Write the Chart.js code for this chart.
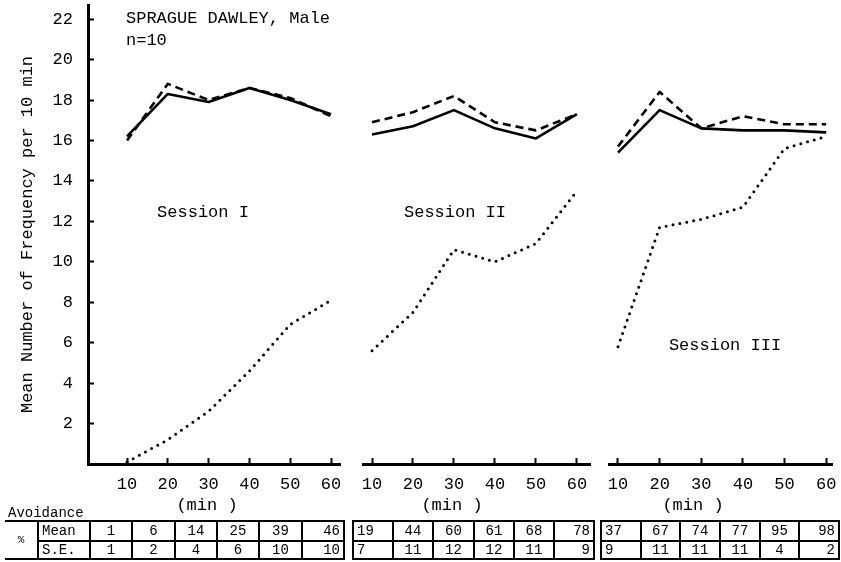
<!DOCTYPE html>
<html>
<head>
<meta charset="utf-8">
<script src="https://cdn.jsdelivr.net/npm/chart.js@4.4.1/dist/chart.umd.min.js"></script>
<style>
  html, body { margin: 0; padding: 0; background: #fff; }
  #page { position: relative; width: 841px; height: 562px; overflow: hidden; background: #fff;
          font-family: "Liberation Mono", "DejaVu Sans Mono", monospace; color: #000; }
  #page canvas { position: absolute; top: 0; }
  .t { position: absolute; white-space: pre; line-height: 1; font-size: 17px; }
  .c { position: absolute; box-sizing: border-box; border: 2px solid #000; display: flex;
       align-items: center; justify-content: center; font-size: 14px; white-space: pre; line-height: 1; }
</style>
</head>
<body>
<div id="page">
  <canvas id="p1" width="345" height="520" style="left:0px"></canvas>
  <canvas id="p2" width="242" height="520" style="left:353px"></canvas>
  <canvas id="p3" width="238" height="520" style="left:599px"></canvas>
</div>
<script>
// Time blocks (min) within each session
const minutes = [10, 20, 30, 40, 50, 60];
const yTickValues = [2, 4, 6, 8, 10, 12, 14, 16, 18, 20, 22];
const sessionNames = ['Session I', 'Session II', 'Session III'];

// Mean number of responses per 10 min: solid, dashed and dotted curves
const s1Solid  = [16.2, 18.3, 17.9, 18.6, 18.0, 17.3];
const s1Dashed = [16.0, 18.8, 18.0, 18.6, 18.1, 17.2];
const s1Dotted = [0.1, 1.2, 2.6, 4.6, 6.9, 8.1];

const s2Solid  = [16.3, 16.7, 17.5, 16.6, 16.1, 17.3];
const s2Dashed = [16.9, 17.4, 18.2, 16.9, 16.5, 17.3];
const s2Dotted = [5.6, 7.5, 10.6, 10.0, 10.9, 13.5];

const s3Solid  = [15.4, 17.5, 16.6, 16.5, 16.5, 16.4];
const s3Dashed = [15.7, 18.4, 16.6, 17.2, 16.8, 16.8];
const s3Dotted = [5.8, 11.7, 12.1, 12.7, 15.6, 16.2];

// Avoidance (%) per block: mean and standard error
const avoidMean1 = [1, 6, 14, 25, 39, 46];
const avoidSE1   = [1, 2, 4, 6, 10, 10];
const avoidMean2 = [19, 44, 60, 61, 68, 78];
const avoidSE2   = [7, 11, 12, 12, 11, 9];
const avoidMean3 = [37, 67, 74, 77, 95, 98];
const avoidSE3   = [9, 11, 11, 11, 4, 2];

const FONT = '"Liberation Mono", "DejaVu Sans Mono", monospace';

function series(vals, dash, width, cap) {
  return {
    data: minutes.map((m, i) => ({ x: m, y: vals[i] })),
    borderColor: '#000',
    borderWidth: width,
    borderDash: dash,
    borderCapStyle: cap,
    borderJoinStyle: 'round',
    pointRadius: 0,
    tension: 0,
    fill: false
  };
}

// keep the plot area fixed: no extra room reserved for edge labels
function noEdgePadding(s) {
  s.paddingLeft = 0; s.paddingRight = 0; s.paddingTop = 0; s.paddingBottom = 0;
}

function makePanel(id, xMin, xMax, solid, dashed, dotted, showY) {
  return new Chart(document.getElementById(id), {
    type: 'line',
    data: {
      datasets: [
        series(solid, [], 2.6, 'butt'),
        series(dashed, [8, 5], 2.6, 'butt'),
        series(dotted, [0, 7], 3, 'round')
      ]
    },
    options: {
      responsive: false,
      animation: false,
      devicePixelRatio: 1,
      layout: { padding: { top: 5, right: 5, bottom: 0, left: showY ? 0 : 10 } },
      plugins: { legend: { display: false }, tooltip: { enabled: false } },
      scales: {
        x: {
          type: 'linear', min: xMin, max: xMax,
          afterBuildTicks: s => { s.ticks = minutes.map(v => ({ value: v })); },
          afterFit: s => { s.height = 56; noEdgePadding(s); },
          grid: { drawOnChartArea: false, drawTicks: true, tickLength: -6, tickWidth: 2, tickColor: '#000' },
          border: { display: true, color: '#000', width: 3 },
          ticks: { color: '#000', font: { family: FONT, size: 17 }, padding: 16, maxRotation: 0, autoSkip: false }
        },
        y: {
          type: 'linear', min: 0, max: 22.7, display: showY,
          afterBuildTicks: s => { s.ticks = yTickValues.map(v => ({ value: v })); },
          afterFit: s => { s.width = showY ? 88 : 0; noEdgePadding(s); },
          grid: { drawOnChartArea: false, drawTicks: true, tickLength: -6, tickWidth: 2, tickColor: '#000' },
          border: { display: true, color: '#000', width: 3 },
          ticks: { color: '#000', font: { family: FONT, size: 17 }, padding: 21, autoSkip: false },
          title: {
            display: true,
            text: 'Mean Number of Frequency per 10 min',
            color: '#000',
            font: { family: FONT, size: 17 },
            padding: { top: 17, bottom: 0 }
          }
        }
      }
    }
  });
}

makePanel('p1', 0.44, 62.2, s1Solid, s1Dashed, s1Dotted, true);
makePanel('p2', 7.8, 63.2, s2Solid, s2Dashed, s2Dotted, false);
makePanel('p3', 7.84, 61.4, s3Solid, s3Dashed, s3Dotted, false);

const page = document.getElementById('page');

function text(str, x, y, opts = {}) {
  const d = document.createElement('div');
  d.className = 't';
  d.textContent = str;
  d.style.left = x + 'px';
  d.style.top = y + 'px';
  if (opts.size) d.style.fontSize = opts.size + 'px';
  if (opts.center) d.style.transform = 'translateX(-50%)';
  page.appendChild(d);
}

text('SPRAGUE DAWLEY, Male', 126, 10);
text('n=10', 126, 32);
text(sessionNames[0], 203, 204, { center: true });
text(sessionNames[1], 455, 204, { center: true });
text(sessionNames[2], 725, 337, { center: true });
[207, 452, 693].forEach(x => text('(min )', x, 497, { center: true }));
text('Avoidance', 8, 506, { size: 14 });

// Avoidance table
function cell(str, x0, x1, y0, y1, align, extra) {
  const d = document.createElement('div');
  d.className = 'c';
  d.textContent = str;
  d.style.left = x0 + 'px';
  d.style.top = y0 + 'px';
  d.style.width = (x1 - x0 + 2) + 'px';
  d.style.height = (y1 - y0 + 2) + 'px';
  if (align === 'left') { d.style.justifyContent = 'flex-start'; d.style.paddingLeft = '3px'; }
  if (align === 'right') { d.style.justifyContent = 'flex-end'; d.style.paddingRight = '3px'; }
  if (extra) Object.assign(d.style, extra);
  page.appendChild(d);
}

const rowTop = 520, rowMid = 540, rowBot = 558;

cell('%', 5, 37, rowTop, rowBot, 'center', { borderLeft: 'none', fontSize: '11px' });
cell('Mean', 37, 89, rowTop, rowMid, 'left');
cell('S.E.', 37, 89, rowMid, rowBot, 'left');

function valueBlock(means, ses, x0, x1, firstLeft) {
  const w = (x1 - x0) / means.length;
  means.forEach((m, i) => {
    const a = Math.round(x0 + i * w), b = Math.round(x0 + (i + 1) * w);
    let align = 'center';
    if (i === means.length - 1) align = 'right';
    if (i === 0 && firstLeft) align = 'left';
    cell(String(m), a, b, rowTop, rowMid, align);
    cell(String(ses[i]), a, b, rowMid, rowBot, align);
  });
}

valueBlock(avoidMean1, avoidSE1, 89, 343, false);
valueBlock(avoidMean2, avoidSE2, 352, 593, true);
valueBlock(avoidMean3, avoidSE3, 600, 838, true);
</script>
</body>
</html>
